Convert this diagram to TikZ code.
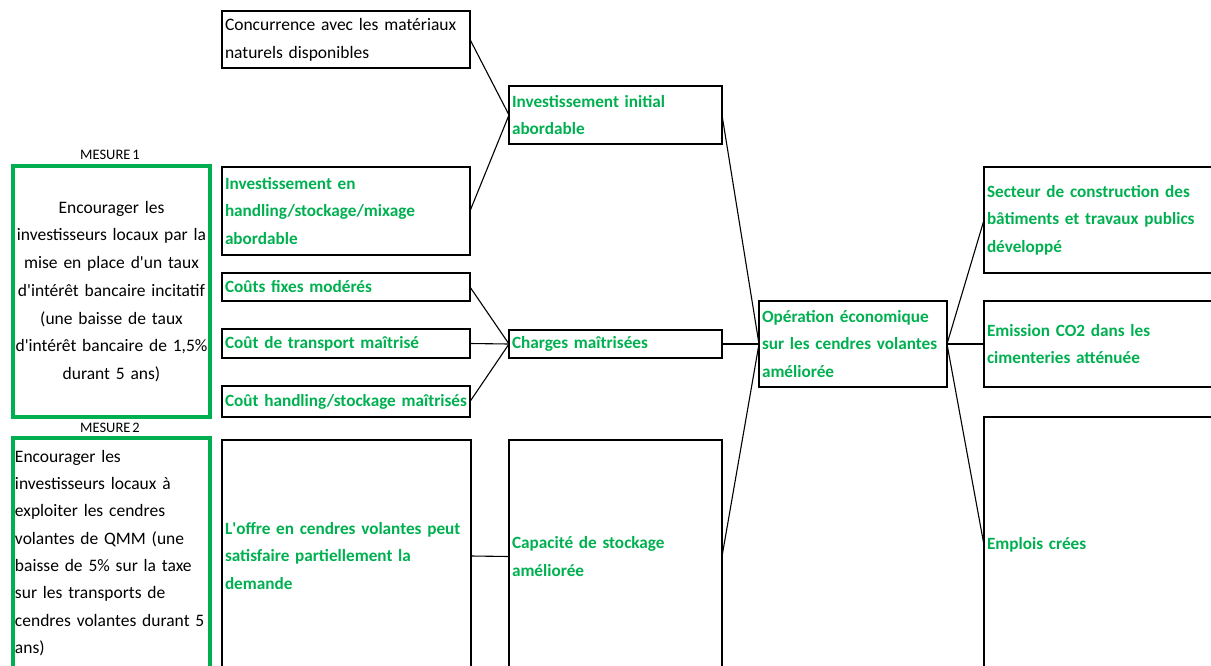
\documentclass[tikz,border=0pt]{standalone}
\usepackage{fontspec}
\setmainfont{Carlito}[WordSpace=0.6]
\definecolor{xlgreen}{RGB}{0,176,80}
\tikzset{
  box/.style={draw=black, line width=2.2pt, rectangle, anchor=north west,
    inner xsep=3pt, inner ysep=0pt, outer sep=0pt, align=left,
    font=\fontsize{17.5}{27.7}\selectfont},
  gbold/.style={text=xlgreen, font=\fontsize{17.2}{27.7}\selectfont\bfseries},
  mesure/.style={draw=xlgreen, line width=4pt, rectangle, anchor=north west,
    inner xsep=2pt, inner ysep=0pt, outer sep=0pt,
    font=\fontsize{17.5}{27.7}\selectfont},
  tag/.style={font=\fontsize{14.5}{16}\selectfont, inner sep=0pt},
  link/.style={draw=black, line width=1.1pt}
}
\newcommand{\apos}{\textquotesingle}
\begin{document}
\begin{tikzpicture}[x=1pt, y=-1pt]
\useasboundingbox (0,0) rectangle (1211,665);
\clip (0,0) rectangle (1211,665);

% measures
\node[tag] (m1lab) at (110,155) {MESURE 1};
\node[mesure, minimum width=197pt, minimum height=251pt, text width=193pt, align=center]
  (m1) at (13,166) {Encourager les\\ investisseurs locaux par la\\ mise en place d\apos un taux\\
  d\apos intérêt bancaire incitatif\\ (une baisse de taux\\ d\apos intérêt bancaire de 1,5\%\\ durant 5 ans)};
\node[tag] (m2lab) at (110,428) {MESURE 2};
\node[mesure, minimum width=197pt, minimum height=230pt, text width=193pt, align=left,
  font=\fontsize{17.5}{27.3}\selectfont]
  (m2) at (13,438) {\mbox{Encourager les}\\ \mbox{investisseurs locaux à}\\ \mbox{exploiter les cendres}\\
  \mbox{volantes de QMM (une}\\ \mbox{baisse de 5\% sur la taxe}\\ \mbox{sur les transports de}\\
  \mbox{cendres volantes durant 5}\\ \mbox{ans)}};

% causes
\node[box, minimum width=248pt, minimum height=57pt, text width=242pt] (conc) at (222,11)
  {\mbox{Concurrence avec les matériaux}\\ \mbox{naturels disponibles}};
\node[box, gbold, minimum width=248pt, minimum height=88pt, text width=242pt] (invh) at (222,167)
  {\mbox{Investissement en}\\ \mbox{handling/stockage/mixage}\\ \mbox{abordable}};
\node[box, gbold, minimum width=248pt, minimum height=28pt, text width=242pt] (cfix) at (222,273)
  {\mbox{Coûts fixes modérés}};
\node[box, gbold, minimum width=248pt, minimum height=29pt, text width=242pt] (ctr) at (222,329)
  {\mbox{Coût de transport maîtrisé}};
\node[box, gbold, minimum width=248pt, minimum height=31pt, text width=242pt] (chs) at (222,386)
  {\mbox{Coût handling/stockage maîtrisés}};
\node[box, gbold, minimum width=249pt, minimum height=232pt, text width=243pt] (offre) at (222,440)
  {\mbox{L\apos offre en cendres volantes peut}\\ \mbox{satisfaire partiellement la}\\ \mbox{demande}};

% intermediate effects
\node[box, gbold, minimum width=213pt, minimum height=58pt, text width=207pt] (invi) at (509,86)
  {\mbox{Investissement initial}\\ \mbox{abordable}};
\node[box, gbold, minimum width=213pt, minimum height=28pt, text width=207pt] (charg) at (509,330)
  {\mbox{Charges maîtrisées}};
\node[box, gbold, minimum width=213pt, minimum height=233pt, text width=207pt] (capa) at (509,440)
  {\mbox{Capacité de stockage}\\ \mbox{améliorée}};

% central outcome
\node[box, gbold, minimum width=188pt, minimum height=86pt, text width=182pt] (oper) at (759,301)
  {\mbox{Opération économique}\\ \mbox{sur les cendres volantes}\\ \mbox{améliorée}};

% consequences
\node[box, gbold, minimum width=250pt, minimum height=106pt, text width=244pt] (sect) at (984,167)
  {\mbox{Secteur de construction des}\\ \mbox{bâtiments et travaux publics}\\ \mbox{développé}};
\node[box, gbold, minimum width=250pt, minimum height=86pt, text width=244pt] (emis) at (984,301)
  {\mbox{Emission CO2 dans les}\\ \mbox{cimenteries atténuée}};
\node[box, gbold, minimum width=250pt, minimum height=256pt, text width=244pt] (empl) at (984,417)
  {\mbox{Emplois crées}};

% connectors
\draw[link] (conc.east) -- (invi.west);
\draw[link] (invh.east) -- (invi.west);
\draw[link] (cfix.east) -- (charg.west);
\draw[link] (ctr.east) -- (charg.west);
\draw[link] (chs.east) -- (charg.west);
\draw[link] (offre.east) -- (capa.west);
\draw[link] (invi.east) -- (oper.west);
\draw[link] (charg.east) -- (oper.west);
\draw[link] (capa.east) -- (oper.west);
\draw[link] (oper.east) -- (sect.west);
\draw[link] (oper.east) -- (emis.west);
\draw[link] (oper.east) -- (empl.west);
\end{tikzpicture}
\end{document}
